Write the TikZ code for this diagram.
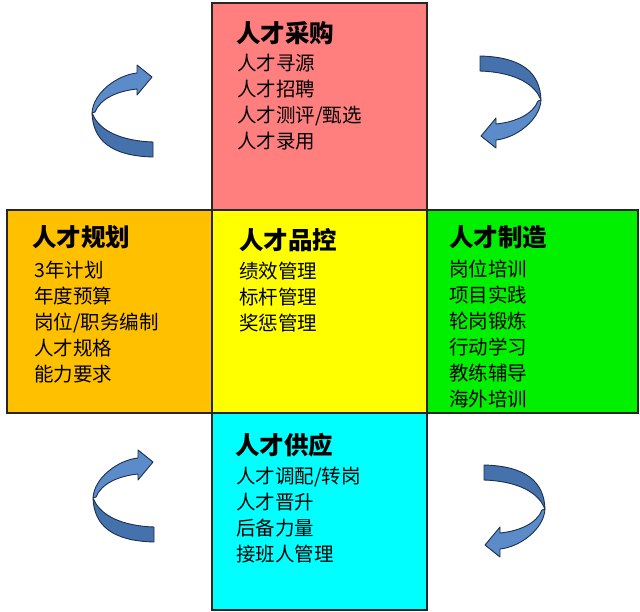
\documentclass[tikz,border=0pt]{standalone}
\usepackage{fontspec}
\setmainfont{Noto Sans CJK SC}
\usetikzlibrary{positioning}

\definecolor{pinkbox}{HTML}{FF7F7F}
\definecolor{orangebox}{HTML}{FFC000}
\definecolor{yellowbox}{HTML}{FFFF00}
\definecolor{greenbox}{HTML}{00F000}
\definecolor{cyanbox}{HTML}{00FFFF}
\definecolor{ribbonlight}{HTML}{5B8BC8}
\definecolor{ribbondark}{HTML}{4571AC}
\definecolor{ribbonline}{HTML}{1C2F4D}

\begin{document}
\begin{tikzpicture}[
    x=1pt, y=-1pt,
    quad/.style={draw=black!85, line width=1.3pt, inner sep=0pt},
    title/.style={font=\fontsize{24.5}{27}\selectfont\bfseries, inner sep=0pt, anchor=west},
    items/.style={font=\fontsize{19.5}{26}\selectfont, align=left, inner sep=0pt, anchor=north west},
    turnarrow/.pic={
        % back part of the ribbon
        \draw[fill=ribbondark, draw=ribbonline, line width=0.9pt, line join=round]
            (-30,2) .. controls (-29,30) and (-10,45) .. (31,46)
            -- (31,31) .. controls (0,30) and (-22,20) .. (-29,4) -- cycle;
        % front part with the head
        \draw[fill=ribbonlight, draw=ribbonline, line width=0.9pt, line join=round]
            (-30,2) .. controls (-29,-18) and (-5,-36) .. (15,-38)
            -- (15,-46) -- (30,-34) -- (15,-16) -- (15,-22)
            .. controls (-5,-20) and (-22,-12) .. (-27,1) -- cycle;
    }
]
\useasboundingbox (0,0) rectangle (640,611);

% the five boxes
\node (purchase) [quad, fill=pinkbox, minimum width=215pt, minimum height=207pt] at (319.5,106.5) {};
\node (plan) [quad, fill=orangebox, minimum width=205pt, minimum height=203pt] at (109.5,311.5) {};
\node (make) [quad, fill=greenbox, minimum width=211pt, minimum height=203pt] at (532.5,311.5) {};
\node (supply) [quad, fill=cyanbox, minimum width=215pt, minimum height=197pt] at (319.5,511.5) {};
\node (control) [quad, fill=yellowbox, minimum width=215pt, minimum height=203pt] at (319.5,311.5) {};

% titles
\node (purchase-t) [title] at (236,33) {人才采购};
\node (plan-t) [title] at (32,237) {人才规划};
\node (control-t) [title] at (239,240) {人才品控};
\node (make-t) [title] at (449,237) {人才制造};
\node (supply-t) [title] at (235,445) {人才供应};

% lists
\node (purchase-l) [items] at (237,54) {人才寻源\\人才招聘\\人才测评/甄选\\人才录用};
\node (plan-l) [items] at (34,261) {3年计划\\年度预算\\岗位/职务编制\\人才规格\\能力要求};
\node (control-l) [items] at (239,262) {绩效管理\\标杆管理\\奖惩管理};
\node (make-l) [items] at (449,260) {岗位培训\\项目实践\\轮岗锻炼\\行动学习\\教练辅导\\海外培训};
\node (supply-l) [items] at (236,467) {人才调配/转岗\\人才晋升\\后备力量\\接班人管理};

% turning arrows
\pic at (122,111) {turnarrow};
\pic[rotate=180] at (511,102) {turnarrow};
\pic at (123,496) {turnarrow};
\pic[rotate=180] at (515,511) {turnarrow};

\end{tikzpicture}
\end{document}
